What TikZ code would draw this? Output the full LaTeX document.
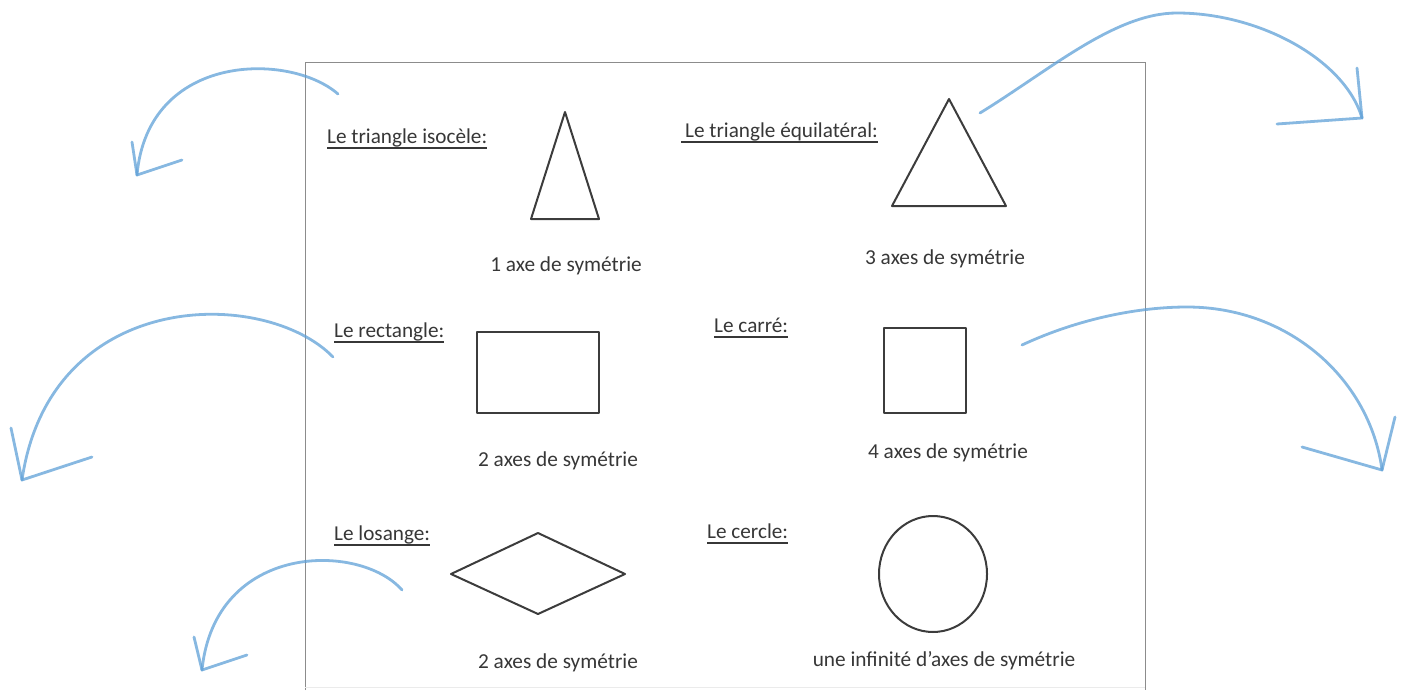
\documentclass[tikz,border=0pt]{standalone}
\usepackage{fontspec}
\setmainfont{Carlito}
\definecolor{txt}{RGB}{55,55,55}
\definecolor{shp}{RGB}{60,60,60}
\definecolor{frm}{RGB}{140,140,140}
\definecolor{arr}{RGB}{95,160,215}
\tikzset{
  lbltxt/.style={anchor=base west, inner sep=0pt, text=txt, font=\fontsize{21.2}{25}\selectfont},
  captxt/.style={anchor=base, inner sep=0pt, text=txt, font=\fontsize{21.3}{25}\selectfont},
  uline/.style={draw=txt, line width=1.3pt},
  figline/.style={draw=shp, line width=2pt, line join=round},
  frameline/.style={draw=frm, line width=1pt},
  swoosh/.style={draw=arr, line width=2.8pt, opacity=0.75, line cap=round, line join=round},
}
\begin{document}
\begin{tikzpicture}[x=1pt,y=-1pt]
\useasboundingbox (0,0) rectangle (1404,690);
% frame
\coordinate (fbl) at (305,690);
\coordinate (ftl) at (305,63);
\coordinate (ftr) at (1145,63);
\coordinate (fbr) at (1145,690);
\draw[frameline] (fbl) -- (ftl) -- (ftr) -- (fbr);
\draw[draw=black!8, line width=1pt] (305,687) -- (1145,687);

% labels
\node[lbltxt] (l1) at (327,143) {Le triangle isocèle:};
\node[lbltxt] (l2) at (685,137) {Le triangle équilatéral:};
\node[lbltxt] (l3) at (334,337) {Le rectangle:};
\node[lbltxt] (l4) at (714,332) {Le carré:};
\node[lbltxt] (l5) at (334,540) {Le losange:};
\node[lbltxt] (l6) at (707,538) {Le cercle:};
\foreach \n in {l1,l3,l4,l5,l6}
  \draw[uline] ([yshift=-5pt]\n.base west) -- ([yshift=-5pt]\n.base east);
\draw[uline] ([xshift=-4pt,yshift=-5pt]l2.base west) -- ([yshift=-5pt]l2.base east);

% captions
\node[captxt] (c1) at (566,271) {1 axe de symétrie};
\node[captxt] (c2) at (945,264) {3 axes de symétrie};
\node[captxt] (c3) at (558,466) {2 axes de symétrie};
\node[captxt] (c4) at (948,458) {4 axes de symétrie};
\node[captxt] (c5) at (558,668) {2 axes de symétrie};
\node[captxt] (c6) at (944,666) {une infinité d’axes de symétrie};

% shapes
\draw[figline] (565,112) -- (599,219) -- (531,219) -- cycle;
\draw[figline] (949,99) -- (1006,206) -- (892,206) -- cycle;
\draw[figline] (477,332) rectangle (599,413);
\draw[figline] (884,328) rectangle (966,413);
\draw[figline] (451,574) -- (538,533) -- (625,574) -- (538,614) -- cycle;
\draw[figline] (933,574) ellipse [x radius=54, y radius=58];

% swoosh arrows
% 1 top left
\coordinate (s1) at (338,94);
\coordinate (t1) at (137,175);
\draw[swoosh] (s1) .. controls (290,52) and (148,52) .. (t1);
\draw[swoosh] (132,142) -- (t1) -- (182,160);
% 2 middle left
\coordinate (s2) at (333,357);
\coordinate (t2) at (22,480);
\draw[swoosh] (s2) .. controls (265,287) and (50,287) .. (t2);
\draw[swoosh] (11,428) -- (t2) -- (92,457);
% 3 bottom left
\coordinate (s3) at (402,590);
\coordinate (t3) at (202,670);
\draw[swoosh] (s3) .. controls (360,542) and (215,542) .. (t3);
\draw[swoosh] (194,637) -- (t3) -- (247,655);
% 4 top right
\coordinate (s4) at (980,113);
\coordinate (p4) at (1177,13);
\coordinate (t4) at (1362,118);
\draw[swoosh] (s4) .. controls (1050,70) and (1115,13) .. (p4) .. controls (1260,13) and (1345,60) .. (t4);
\draw[swoosh] (1357,68) -- (t4) -- (1277,124);
% 5 middle right
\coordinate (s5) at (1022,345);
\coordinate (p5) at (1187,307);
\coordinate (t5) at (1382,470);
\draw[swoosh] (s5) .. controls (1080,318) and (1140,307) .. (p5) .. controls (1290,307) and (1370,380) .. (t5);
\draw[swoosh] (1395,417) -- (t5) -- (1302,447);
\end{tikzpicture}
\end{document}
